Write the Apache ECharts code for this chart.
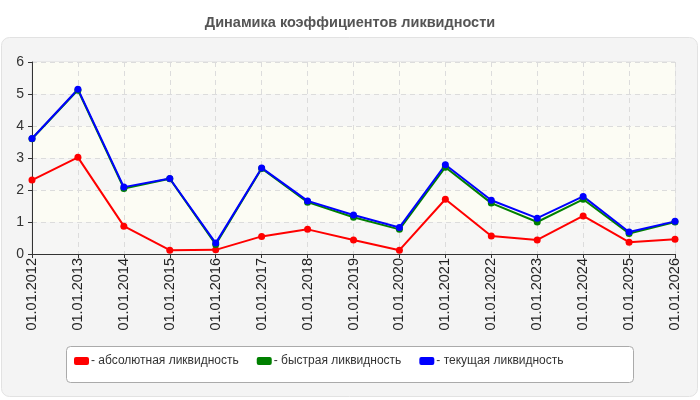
<!DOCTYPE html>
<html><head><meta charset="utf-8">
<script src="https://cdn.jsdelivr.net/npm/echarts@6/dist/echarts.min.js"></script>
<style>html,body{margin:0;padding:0;background:#fff}#c{width:700px;height:400px}</style>
</head><body><div id="c"></div>
<script>
var categories = ['01.01.2012','01.01.2013','01.01.2014','01.01.2015','01.01.2016','01.01.2017','01.01.2018','01.01.2019','01.01.2020','01.01.2021','01.01.2022','01.01.2023','01.01.2024','01.01.2025','01.01.2026'];
var absoluteLiq = [2.31, 3.02, 0.87, 0.12, 0.13, 0.55, 0.77, 0.44, 0.12, 1.71, 0.56, 0.44, 1.19, 0.37, 0.46];
var quickLiq    = [3.60, 5.12, 2.05, 2.35, 0.30, 2.67, 1.62, 1.15, 0.77, 2.71, 1.59, 1.00, 1.71, 0.64, 1.00];
var currentLiq  = [3.61, 5.15, 2.09, 2.36, 0.34, 2.69, 1.66, 1.22, 0.83, 2.79, 1.68, 1.12, 1.80, 0.69, 1.02];
var seriesNames = ['абсолютная ликвидность', 'быстрая ликвидность', 'текущая ликвидность'];
var yTicks = [0, 1, 2, 3, 4, 5, 6];

var chart = echarts.init(document.getElementById('c'));
var font = 'Liberation Sans, Arial, sans-serif';
function line(name, data, color) {
  return {
    name: name, type: 'line', data: data,
    symbol: 'circle', symbolSize: 7,
    lineStyle: { color: color, width: 2 },
    itemStyle: { color: color },
    emphasis: { disabled: true }
  };
}
chart.setOption({
  animation: false,
  textStyle: { fontFamily: font },
  title: {
    text: 'Динамика коэффициентов ликвидности',
    left: 'center', top: 10,
    textStyle: { fontSize: 14.5, fontWeight: 'bold', color: '#555', fontFamily: font }
  },
  graphic: [
    { type: 'rect', z: -10, silent: true, shape: { x: 1.5, y: 37.5, width: 696, height: 359, r: 8 },
      style: { fill: '#f4f4f4', stroke: '#e2e2e2', lineWidth: 1 } },
    { type: 'rect', z: -5, silent: true, shape: { x: 66.5, y: 346.5, width: 567, height: 36, r: 4 },
      style: { fill: '#ffffff', stroke: '#aaaaaa', lineWidth: 1 } }
  ],
  grid: { left: 32, right: 25, top: 62, bottom: 146, show: true, borderColor: '#dddddd', borderWidth: 1, backgroundColor: '#fbfbf6' },
  legend: {
    left: 69, top: 350, itemWidth: 15, itemHeight: 8, itemGap: 18,
    icon: 'roundRect',
    data: seriesNames,
    formatter: function (n) { return '- ' + n; },
    textStyle: { fontSize: 12, color: '#333', fontFamily: font, padding: [0, 0, 0, -3] }
  },
  xAxis: {
    type: 'category', data: categories, boundaryGap: false,
    axisLine: { lineStyle: { color: '#333', width: 1 } },
    axisTick: { show: true, length: 4, lineStyle: { color: '#333' } },
    axisLabel: { rotate: 90, fontSize: 14.5, color: '#222', margin: 4, fontFamily: font },
    splitLine: { show: true, lineStyle: { color: '#dcdcdc', type: [5, 4] } }
  },
  yAxis: {
    type: 'value', min: yTicks[0], max: yTicks[yTicks.length - 1], interval: 1,
    axisLine: { show: true, lineStyle: { color: '#333', width: 1 } },
    axisTick: { show: true, length: 4, lineStyle: { color: '#333' } },
    axisLabel: { fontSize: 14, color: '#333', margin: 8, fontFamily: font },
    splitLine: { show: true, lineStyle: { color: '#dcdcdc', type: [5, 4] } },
    splitArea: { show: true, areaStyle: { color: ['#f6f6f5', '#fcfcf4'] } }
  },
  series: [
    line(seriesNames[0], absoluteLiq, '#ff0000'),
    line(seriesNames[1], quickLiq, '#008000'),
    line(seriesNames[2], currentLiq, '#0000ff')
  ]
});
</script></body></html>
